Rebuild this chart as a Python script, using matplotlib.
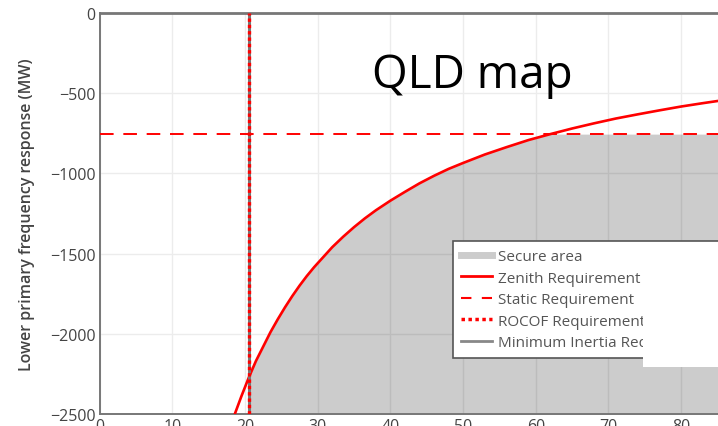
import numpy as np
import matplotlib
matplotlib.use("Agg")
import matplotlib.pyplot as plt
from matplotlib.lines import Line2D
from matplotlib.patches import Rectangle

# podaci ocitani sa slike
zenith_x = [18.6, 19.5, 20.5, 21.5, 22.5, 23.5, 24.5, 25.5, 26.5, 27.5, 28.5, 29.5, 30.5,
            32, 33.5, 35, 36.5, 38, 40, 42, 44, 46, 48, 50, 53, 56, 59, 62, 65, 68, 71,
            74, 77, 80, 83, 86, 90]
zenith_y = [-2500, -2390, -2275, -2170, -2080, -1990, -1910, -1835, -1765, -1700, -1640,
            -1585, -1535, -1460, -1395, -1335, -1280, -1230, -1170, -1115, -1062, -1015,
            -972, -935, -882, -836, -792, -755, -720, -688, -658, -632, -607, -583, -562,
            -542, -518]
static_req = -755
rocof_x = 20.6
y_ticks = [0, -500, -1000, -1500, -2000, -2500]
x_ticks = [0, 10, 20, 30, 40, 50, 60, 70, 80]
labels = ["Secure area", "Zenith Requirement", "Static Requirement",
          "ROCOF Requirement", "Minimum Inertia Requirement"]

plt.rcParams['font.family'] = ['Open Sans', 'DejaVu Sans']

W, H = 718, 427
fig = plt.figure(figsize=(W / 100, H / 100), dpi=100)
ax = fig.add_axes([99.6 / W, 12 / H, (W - 99.6) / W, 401 / H])

ax.set_xlim(0, (W - 99.6) / 7.27)
ax.set_ylim(-2500, 0)

# siva oblast (secure area)
xs = np.linspace(rocof_x, 90, 800)
top = np.minimum(np.interp(xs, zenith_x, zenith_y), static_req)
ax.fill_between(xs, -2500, top, color='black', alpha=0.2, linewidth=0, zorder=2)

# linije zahteva
ax.plot(zenith_x, zenith_y, color='red', lw=1.9, zorder=4, solid_joinstyle='round')
ax.axhline(static_req, color='red', lw=1.4, linestyle=(0, (7, 5)), zorder=4)
ax.axvline(rocof_x, color='#777777', lw=2.2, zorder=4)
ax.axvline(rocof_x, color='red', lw=2.4, linestyle=(0, (1, 0.9)), zorder=5)

ax.set_xticks(x_ticks)
ax.set_yticks(y_ticks)
ax.set_yticklabels(["0" if v == 0 else "\u2212" + str(-v) for v in y_ticks])
ax.grid(True, color='#ececec', lw=1)
ax.set_axisbelow(True)
ax.tick_params(length=0, labelsize=11.5, colors='#444444', pad=3)
ax.tick_params(axis='x', pad=3)

for s in ['left', 'bottom', 'top']:
    ax.spines[s].set_color('#777777')
    ax.spines[s].set_linewidth(1.4)
ax.spines['top'].set_linewidth(2.0)
ax.spines['right'].set_visible(False)

ax.set_ylabel("Lower primary frequency response (MW)", fontsize=11.5,
              fontweight='semibold', color='#444444')
ax.yaxis.set_label_coords((35 - 99.6) / (W - 99.6), 0.5)

# legenda - siri se preko desne ivice slike
handles = [
    Line2D([], [], color='#cccccc', lw=5),
    Line2D([], [], color='red', lw=2),
    Line2D([], [], color='red', lw=1.5, linestyle=(0, (5, 5))),
    Line2D([], [], color='red', lw=2.5, linestyle=(0, (1, 1))),
    Line2D([], [], color='#888888', lw=2),
]
lx = (453 - 99.6) / (W - 99.6)
ltop = (415 - 242) / 401
leg = ax.legend(handles, labels, loc='upper left', mode='expand',
                bbox_to_anchor=(lx, ltop - 0.3, 0.6, 0.3),
                fontsize=11, frameon=True, fancybox=False, framealpha=1,
                edgecolor='#555555', handlelength=2.0, handletextpad=0.4,
                labelspacing=0.42, borderpad=0.55, borderaxespad=0)
leg.get_frame().set_linewidth(1.2)
for t in leg.get_texts():
    t.set_color('#555555')
leg.set_zorder(10)

fig.text(472 / W, 1 - 88 / H, "QLD map", fontsize=33, ha='center', va='baseline', color='black')

# bijeli pravougaonik preko desnog dela legende
fig.add_artist(Rectangle((643 / W, 1 - 368 / H), 1 - 643 / W, 106 / H,
                         transform=fig.transFigure, facecolor='white',
                         edgecolor='none', zorder=20))

fig.savefig("out.png", dpi=100)
